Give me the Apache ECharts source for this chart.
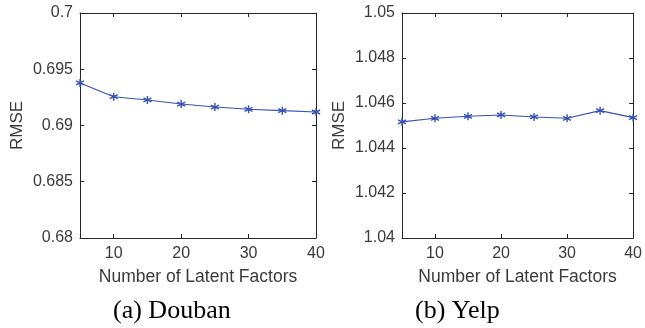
<!DOCTYPE html>
<html>
<head>
<meta charset="utf-8">
<script src="https://cdn.jsdelivr.net/npm/echarts@6/dist/echarts.min.js"></script>
<style>
  html, body { margin: 0; padding: 0; background: #fff; }
  #chart { width: 645px; height: 328px; }
</style>
</head>
<body>
<div id="chart"></div>
<script>
// latent factor counts (x axis)
const factors = [5, 10, 15, 20, 25, 30, 35, 40]
const xTicks = [10, 20, 30, 40]

// RMSE
const doubanRmse = [0.69378, 0.69256, 0.69227, 0.69191, 0.69164, 0.69144, 0.69132, 0.6912]
const yelpRmse = [1.04516, 1.04532, 1.04541, 1.04547, 1.04538, 1.04532, 1.04566, 1.04535]

const captions = ['(a) Douban', '(b) Yelp']

const axisColor = '#262626'
const textColor = '#3a3a3a'
const lineColor = '#3552b4'
const font = 'Liberation Sans, Arial, sans-serif'

// asterisk marker like matlab '*'
const star = 'path://M0,-1L0,1M-0.87,-0.5L0.87,0.5M-0.87,0.5L0.87,-0.5'

function pairs(ys) {
  return factors.map((x, i) => [x, ys[i]])
}

function xAxes(gridIndex) {
  const base = {
    type: 'value',
    gridIndex: gridIndex,
    min: 5,
    max: 40,
    splitLine: { show: false },
    axisLine: { show: true, lineStyle: { color: axisColor, width: 1 } },
    axisTick: { show: true, inside: true, length: 4, customValues: xTicks, lineStyle: { color: axisColor } }
  }
  return [
    Object.assign({}, base, {
      position: 'bottom',
      name: 'Number of Latent Factors',
      nameLocation: 'middle',
      nameGap: 30,
      nameTextStyle: { fontSize: 17.5, color: textColor, fontFamily: font },
      axisLabel: { customValues: xTicks, fontSize: 16, color: textColor, fontFamily: font, margin: 8 }
    }),
    Object.assign({}, base, {
      position: 'top',
      axisLabel: { show: false }
    })
  ]
}

function yAxes(gridIndex, min, max, step) {
  const base = {
    type: 'value',
    gridIndex: gridIndex,
    min: min,
    max: max,
    interval: step,
    splitLine: { show: false },
    axisLine: { show: true, lineStyle: { color: axisColor, width: 1 } },
    axisTick: { show: true, inside: true, length: 4, lineStyle: { color: axisColor } }
  }
  return [
    Object.assign({}, base, {
      position: 'left',
      name: 'RMSE',
      nameLocation: 'middle',
      nameGap: 54,
      nameTextStyle: { fontSize: 17, color: textColor, fontFamily: font },
      axisLabel: {
        fontSize: 16, color: textColor, fontFamily: font, margin: 7,
        formatter: v => String(+v.toFixed(4))
      }
    }),
    Object.assign({}, base, {
      position: 'right',
      axisLabel: { show: false }
    })
  ]
}

function lineSeries(name, xi, yi, ys) {
  return {
    name: name,
    type: 'line',
    xAxisIndex: xi,
    yAxisIndex: yi,
    data: pairs(ys),
    symbol: star,
    symbolSize: 8,
    lineStyle: { color: lineColor, width: 1.1 },
    itemStyle: { color: lineColor, borderColor: lineColor, borderWidth: 1.4 },
    animation: false
  }
}

const chart = echarts.init(document.getElementById('chart'))
chart.setOption({
  backgroundColor: '#fff',
  grid: [
    { left: 80, right: 329, top: 13, bottom: 90 },
    { left: 402, right: 8, top: 13, bottom: 90 }
  ],
  xAxis: [].concat(xAxes(0), xAxes(1)),
  yAxis: [].concat(yAxes(0, 0.68, 0.7, 0.005), yAxes(1, 1.04, 1.05, 0.002)),
  series: [
    lineSeries('Douban', 0, 0, doubanRmse),
    lineSeries('Yelp', 2, 2, yelpRmse)
  ],
  graphic: [
    {
      type: 'text', left: 113, top: 298,
      style: { text: captions[0], fontSize: 26, fontFamily: 'Liberation Serif, Times New Roman, serif', fill: '#000' }
    },
    {
      type: 'text', left: 415, top: 298,
      style: { text: captions[1], fontSize: 26, fontFamily: 'Liberation Serif, Times New Roman, serif', fill: '#000' }
    }
  ]
})
</script>
</body>
</html>
